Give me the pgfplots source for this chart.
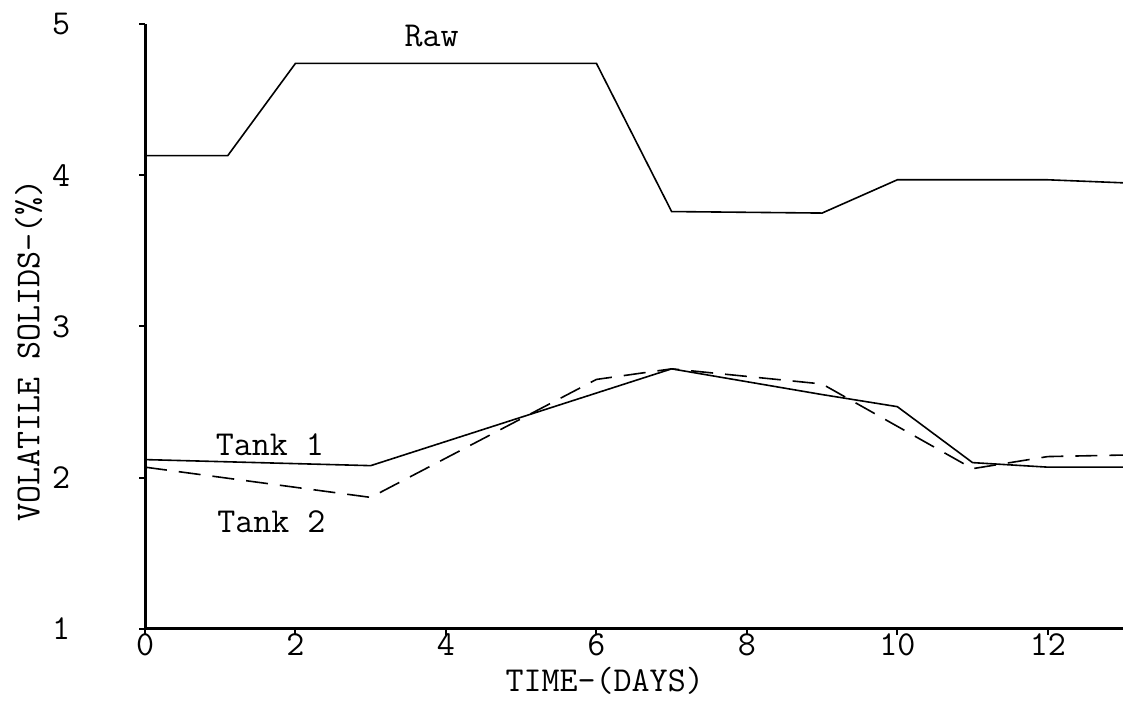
\documentclass[border=0pt]{standalone}
\usepackage{fontspec}
\usepackage{pgfplots}
\pgfplotsset{compat=1.18}
\newcommand{\tw}{\ttfamily\fontsize{17.5}{20}\selectfont}
\begin{document}
\begin{tikzpicture}
\begin{axis}[
  scale only axis, width=489pt, height=302.5pt,
  xmin=0, xmax=13, ymin=1, ymax=5,
  axis lines*=left,
  x axis line style={line width=1.5pt},
  y axis line style={line width=1.5pt},
  every outer x axis line/.append style={line width=1.5pt},
  every outer y axis line/.append style={line width=1.5pt},
  every inner x axis line/.append style={line width=1.5pt},
  every inner y axis line/.append style={line width=1.5pt},
  xtick={0,2,4,6,8,10,12}, ytick={1,2,3,4,5},
  tick align=outside, major tick length=3pt,
  tick style={line width=1pt, black},
  /pgf/number format/assume math mode=true,
  every tick label/.append style={font=\tw},
  xticklabel style={anchor=center, yshift=-5pt},
  yticklabel style={anchor=center, xshift=-39pt},
  xlabel={TIME-(DAYS)},
  ylabel={VOLATILE SOLIDS-(\%)},
  label style={font=\tw},
  xlabel style={at={(axis description cs:0.47,-0.086)}, anchor=center},
  ylabel style={at={(axis description cs:-0.119,0.46)}, anchor=center, rotate=0},
  clip=false,
]
\addplot[black, line width=0.8pt] coordinates {
  (0,4.13) (1.1,4.13) (2,4.74) (6,4.74) (7,3.76) (9,3.75) (10,3.97) (12,3.97) (13,3.95)};
\addplot[black, line width=0.8pt] coordinates {
  (0,2.12) (3,2.08) (5,2.40) (7,2.72) (9,2.55) (10,2.47) (11,2.10) (12,2.07) (13,2.07)};
\addplot[black, line width=0.8pt, dash pattern=on 11pt off 6pt] coordinates {
  (0,2.07) (3,1.87) (6,2.65) (7,2.72) (9,2.62) (11,2.06) (12,2.14) (13,2.15)};
\node[font=\tw] at (axis cs:3.81,4.92) {Raw};
\node[font=\tw] at (axis cs:1.66,2.22) {Tank 1};
\node[font=\tw] at (axis cs:1.68,1.71) {Tank 2};
\path (axis description cs:-0.1483,-0.1174) coordinate (bl)
      (axis description cs:1,1.0397) coordinate (tr);
\end{axis}
\pgfresetboundingbox
\path (bl) rectangle (tr);
\end{tikzpicture}
\end{document}
